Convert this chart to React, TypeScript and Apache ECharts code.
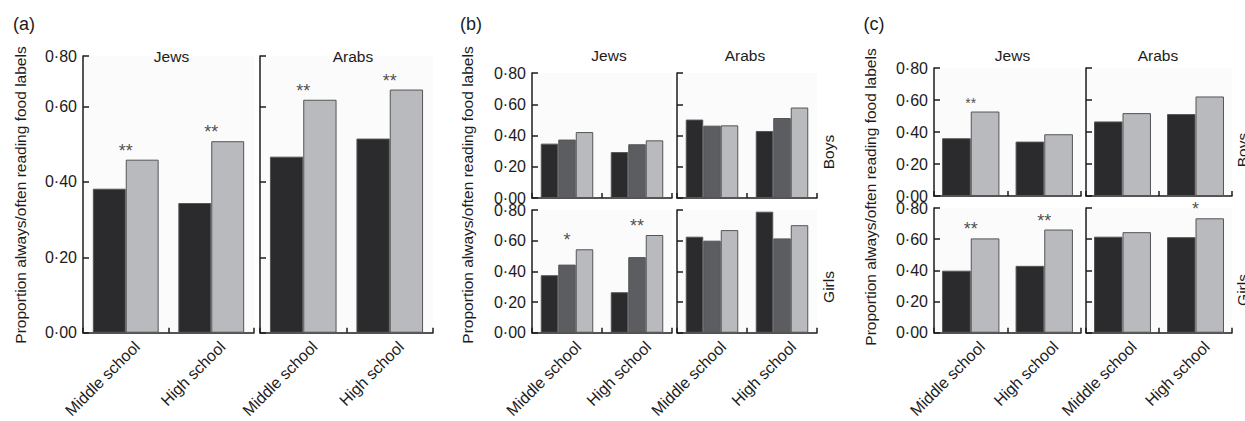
import React, { useEffect, useRef } from "react";
import * as echarts from "echarts";

// ---- data ----
const groupCats = ["Middle school", "High school"];
const yTickLabels = ["0·00", "0·20", "0·40", "0·60", "0·80"];

// panel (a)
const aJewsDark = [0.382, 0.344];
const aJewsLight = [0.459, 0.508];
const aJewsStars = ["**", "**"];
const aArabsDark = [0.467, 0.515];
const aArabsLight = [0.618, 0.645];
const aArabsStars = ["**", "**"];

// panel (b)
const bJewsBoysDark = [0.348, 0.294];
const bJewsBoysMid = [0.374, 0.344];
const bJewsBoysLight = [0.422, 0.369];
const bArabsBoysDark = [0.502, 0.429];
const bArabsBoysMid = [0.463, 0.512];
const bArabsBoysLight = [0.465, 0.579];
const bJewsGirlsDark = [0.375, 0.264];
const bJewsGirlsMid = [0.444, 0.493];
const bJewsGirlsLight = [0.544, 0.637];
const bJewsGirlsStars = ["*", "**"];
const bArabsGirlsDark = [0.626, 0.789];
const bArabsGirlsMid = [0.6, 0.615];
const bArabsGirlsLight = [0.669, 0.701];

// panel (c)
const cJewsBoysDark = [0.361, 0.34];
const cJewsBoysLight = [0.528, 0.386];
const cJewsBoysStars = ["**", ""];
const cArabsBoysDark = [0.466, 0.512];
const cArabsBoysLight = [0.518, 0.622];
const cJewsGirlsDark = [0.398, 0.429];
const cJewsGirlsLight = [0.605, 0.662];
const cJewsGirlsStars = ["**", "**"];
const cArabsGirlsDark = [0.616, 0.613];
const cArabsGirlsLight = [0.645, 0.734];
const cArabsGirlsStars = ["", "*"];

const panelLetters = ["(a)", "(b)", "(c)"];
const groupTitles = ["Jews", "Arabs"];
const sexTitles = ["Boys", "Girls"];
const yTitle = "Proportion always/often reading food labels";

// ---- styles ----
const FONT = '"Liberation Sans", Arial, Helvetica, sans-serif';
const INK = "#1c1c1c";
const DARK = "#2b2b2d";
const MID = "#5c5d60";
const LIGHT = "#b9babd";

type PanelCfg = {
  rect: [number, number, number, number];
  bars: { values: number[]; color: string }[];
  stars?: string[];
  starSize?: number;
  yMax: number;
  yLabels: boolean;
  xLabels: boolean;
  gap: string;
};

function addPanel(grids: any[], xAxes: any[], yAxes: any[], series: any[], cfg: PanelCfg) {
  const idx = grids.length;
  const [left, top, width, height] = cfg.rect;
  grids.push({ left, top, width, height, show: true, backgroundColor: "#fbfbfb", borderWidth: 0 });
  xAxes.push({
    type: "category",
    gridIndex: idx,
    data: groupCats,
    axisLine: { show: true, onZero: false, lineStyle: { color: INK, width: 1.5 } },
    axisTick: { show: true, inside: true, length: 5, alignWithLabel: false, lineStyle: { color: INK, width: 1.5 } },
    axisLabel: {
      show: cfg.xLabels,
      rotate: 45,
      interval: 0,
      fontSize: 16,
      color: INK,
      fontFamily: FONT,
      margin: 0,
      verticalAlign: "top",
      padding: [8, 0, 0, 0],
    },
    splitLine: { show: false },
  });
  yAxes.push({
    type: "value",
    gridIndex: idx,
    min: 0,
    max: cfg.yMax,
    interval: 0.2,
    axisLine: { show: true, onZero: false, lineStyle: { color: INK, width: 1.5 } },
    axisTick: { show: true, inside: true, length: 6, lineStyle: { color: INK, width: 1.5 } },
    axisLabel: {
      show: cfg.yLabels,
      fontSize: 16,
      color: INK,
      fontFamily: FONT,
      margin: 6,
      formatter: (v: number) => yTickLabels[Math.min(4, Math.round(v / 0.2))],
    },
    splitLine: { show: false },
  });
  cfg.bars.forEach((b) => {
    series.push({
      type: "bar",
      xAxisIndex: idx,
      yAxisIndex: idx,
      data: b.values,
      barGap: "0%",
      barCategoryGap: cfg.gap,
      silent: true,
      itemStyle: { color: b.color, borderColor: "#555557", borderWidth: 1 },
    });
  });
  if (cfg.stars) {
    const size = cfg.starSize || 18;
    const pts: any[] = [];
    cfg.stars.forEach((s, i) => {
      if (!s) return;
      const top = Math.max(...cfg.bars.map((b) => b.values[i]));
      pts.push({ value: [i, top], star: s });
    });
    series.push({
      type: "scatter",
      xAxisIndex: idx,
      yAxisIndex: idx,
      data: pts,
      symbol: "circle",
      symbolSize: 1,
      silent: true,
      itemStyle: { color: "rgba(0,0,0,0)" },
      label: {
        show: true,
        position: "inside",
        offset: [0, -9],
        fontSize: size,
        color: INK,
        fontFamily: FONT,
        formatter: (p: any) => p.data.star,
      },
      z: 5,
    });
  }
}

function txt(text: string, x: number, y: number, size: number, rotate = 0) {
  return {
    type: "text",
    x,
    y,
    rotation: rotate,
    silent: true,
    style: {
      text,
      fill: INK,
      font: `${size}px ${FONT}`,
      align: "center",
      verticalAlign: "middle",
      textAlign: "center",
      textVerticalAlign: "middle",
    },
  };
}

function buildOption() {
  const grids: any[] = [];
  const xAxes: any[] = [];
  const yAxes: any[] = [];
  const series: any[] = [];

  // (a)
  addPanel(grids, xAxes, yAxes, series, {
    rect: [83, 56, 171, 279], yMax: 0.734, yLabels: true, xLabels: true, gap: "23%",
    bars: [{ values: aJewsDark, color: DARK }, { values: aJewsLight, color: LIGHT }],
    stars: aJewsStars,
  });
  addPanel(grids, xAxes, yAxes, series, {
    rect: [260, 56, 173, 279], yMax: 0.734, yLabels: false, xLabels: true, gap: "23%",
    bars: [{ values: aArabsDark, color: DARK }, { values: aArabsLight, color: LIGHT }],
    stars: aArabsStars,
  });

  // (b)
  addPanel(grids, xAxes, yAxes, series, {
    rect: [532, 73, 140, 125], yMax: 0.8, yLabels: true, xLabels: false, gap: "25%",
    bars: [{ values: bJewsBoysDark, color: DARK }, { values: bJewsBoysMid, color: MID }, { values: bJewsBoysLight, color: LIGHT }],
  });
  addPanel(grids, xAxes, yAxes, series, {
    rect: [677, 73, 140, 125], yMax: 0.8, yLabels: false, xLabels: false, gap: "25%",
    bars: [{ values: bArabsBoysDark, color: DARK }, { values: bArabsBoysMid, color: MID }, { values: bArabsBoysLight, color: LIGHT }],
  });
  addPanel(grids, xAxes, yAxes, series, {
    rect: [532, 210, 140, 124], yMax: 0.8, yLabels: true, xLabels: true, gap: "25%",
    bars: [{ values: bJewsGirlsDark, color: DARK }, { values: bJewsGirlsMid, color: MID }, { values: bJewsGirlsLight, color: LIGHT }],
    stars: bJewsGirlsStars,
  });
  addPanel(grids, xAxes, yAxes, series, {
    rect: [677, 210, 140, 124], yMax: 0.8, yLabels: false, xLabels: true, gap: "25%",
    bars: [{ values: bArabsGirlsDark, color: DARK }, { values: bArabsGirlsMid, color: MID }, { values: bArabsGirlsLight, color: LIGHT }],
  });

  // (c)
  addPanel(grids, xAxes, yAxes, series, {
    rect: [934, 68, 147, 128], yMax: 0.8, yLabels: true, xLabels: false, gap: "22%",
    bars: [{ values: cJewsBoysDark, color: DARK }, { values: cJewsBoysLight, color: LIGHT }],
    stars: cJewsBoysStars, starSize: 14,
  });
  addPanel(grids, xAxes, yAxes, series, {
    rect: [1086, 68, 146, 128], yMax: 0.8, yLabels: false, xLabels: false, gap: "22%",
    bars: [{ values: cArabsBoysDark, color: DARK }, { values: cArabsBoysLight, color: LIGHT }],
  });
  addPanel(grids, xAxes, yAxes, series, {
    rect: [934, 208, 147, 126], yMax: 0.8, yLabels: true, xLabels: true, gap: "22%",
    bars: [{ values: cJewsGirlsDark, color: DARK }, { values: cJewsGirlsLight, color: LIGHT }],
    stars: cJewsGirlsStars,
  });
  addPanel(grids, xAxes, yAxes, series, {
    rect: [1086, 208, 146, 126], yMax: 0.8, yLabels: false, xLabels: true, gap: "22%",
    bars: [{ values: cArabsGirlsDark, color: DARK }, { values: cArabsGirlsLight, color: LIGHT }],
    stars: cArabsGirlsStars,
  });

  const R = Math.PI / 2;
  const graphic = [
    txt(panelLetters[0], 24, 24, 18),
    txt(panelLetters[1], 471, 24, 18),
    txt(panelLetters[2], 874, 24, 18),
    txt(yTitle, 20, 195, 15.5, R),
    txt(yTitle, 467, 195, 15.5, R),
    txt(yTitle, 870, 197, 15.5, R),
    txt(groupTitles[0], 171.5, 56, 15.5),
    txt(groupTitles[1], 353, 56, 15.5),
    txt(groupTitles[0], 609, 55, 15.5),
    txt(groupTitles[1], 745, 55, 15.5),
    txt(groupTitles[0], 1012.5, 55, 15.5),
    txt(groupTitles[1], 1158, 55, 15.5),
    txt(sexTitles[0], 828, 152, 15.5, R),
    txt(sexTitles[1], 828, 287, 15.5, R),
    txt(sexTitles[0], 1242, 150, 15.5, R),
    txt(sexTitles[1], 1242, 290, 15.5, R),
  ];

  return {
    animation: false,
    backgroundColor: "#ffffff",
    textStyle: { fontFamily: FONT },
    grid: grids,
    xAxis: xAxes,
    yAxis: yAxes,
    series,
    graphic,
  };
}

export default function App() {
  const ref = useRef<HTMLDivElement>(null);
  useEffect(() => {
    if (!ref.current) return;
    const chart = echarts.init(ref.current, undefined, { renderer: "svg" });
    chart.setOption(buildOption() as any);
    return () => chart.dispose();
  }, []);
  return (
    <div
      ref={ref}
      style={{ position: "absolute", left: 0, top: 0, width: 1245, height: 421 }}
    />
  );
}
